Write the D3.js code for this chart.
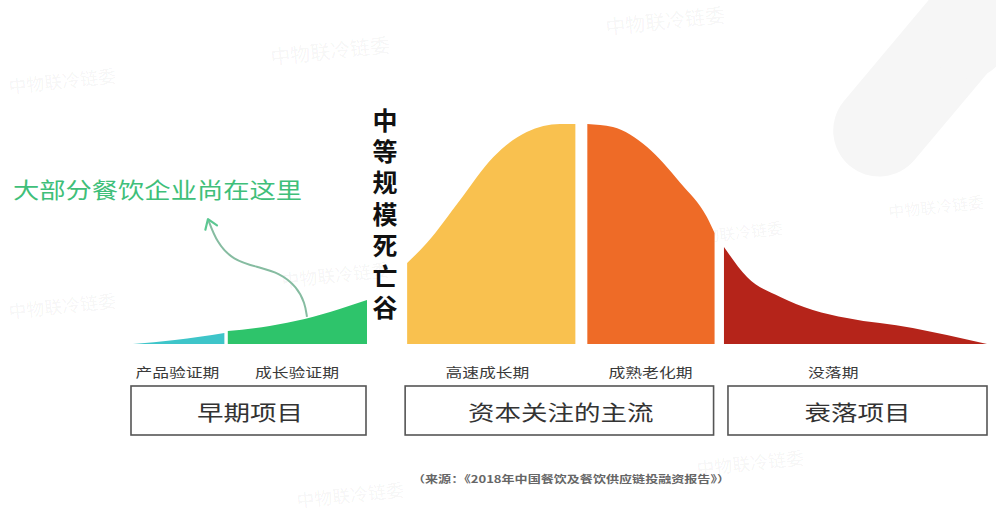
<!DOCTYPE html>
<html>
<head>
<meta charset="utf-8">
<script src="https://cdn.jsdelivr.net/npm/d3@7"></script>
<style>
  html, body { margin: 0; padding: 0; background: #fff; }
  svg { display: block; }
  text { font-family: "Noto Sans CJK SC", "Noto Sans", sans-serif; }
</style>
</head>
<body>
<svg id="chart" width="996" height="512"></svg>
<script>
// Life-cycle curve of a restaurant business, split into stages.
// x: position along the life cycle (0–100), value: relative scale (0–100).
const stageNames = ["产品验证期", "成长验证期", "高速成长期", "成熟老化期", "没落期"];
const curveProduct = [[0, 0], [4.9, 1.8], [10.7, 5]];
const curveGrowthCheck = [[11.1, 5.9], [16.0, 8.2], [20.1, 11.4], [24.2, 15.9], [27.4, 20]];
const curveFastGrowth = [[32.1, 36.8], [34.4, 45.9], [38.3, 65.5], [42.2, 85], [46.1, 96.4], [50.0, 100], [51.8, 100]];
const curveMature = [[53.2, 100], [56.2, 98.6], [60.2, 89.5], [64.1, 73.2], [67.2, 57.7], [68.1, 50.5]];
const curveDecline = [[69.2, 44.1], [71.9, 30.5], [75.8, 21.4], [79.6, 15.5], [83.6, 11.8], [91.3, 7.3], [95.3, 4.1], [100, 0]];
const stageCurves = [curveProduct, curveGrowthCheck, curveFastGrowth, curveMature, curveDecline];
// where each stage name sits along the x axis
const stageLabelAt = [5.2, 19.2, 41.5, 60.6, 82];

const groupNames = ["早期项目", "资本关注的主流", "衰落项目"];
const groupStages = [[0, 1], [2, 3], [4, 4]];

const valleyLabel = "中等规模死亡谷";
const noteLabel = "大部分餐饮企业尚在这里";
// arrow from the note down to the curve, in chart units
const notePath = [[8.78, 56.8], [9.84, 45.9], [11.71, 38.2], [14.52, 35.0], [17.21, 32.3], [19.2, 25.9], [20.14, 18.6], [20.37, 12.3]];
const sourceLabel = "（来源：《2018年中国餐饮及餐饮供应链投融资报告》）";
const watermark = "中物联冷链委";

const stageColors = ["#3ec5c9", "#2ec46b", "#f9c14f", "#ee6b27", "#b5241a"];

const svg = d3.select("#chart");
const W = 996, H = 512;

const x = d3.scaleLinear().domain([0, 100]).range([133, 987]);
const y = d3.scaleLinear().domain([0, 100]).range([344, 124]);

// faint background decoration
const bg = svg.append("g");
bg.append("rect").attr("width", W).attr("height", H).attr("fill", "#fff");
const pill = (cx, cy, len, wid, ang) => bg.append("rect")
  .attr("x", -wid / 2).attr("y", -len / 2).attr("width", wid).attr("height", len)
  .attr("rx", wid / 2).attr("fill", "#f6f6f6")
  .attr("transform", `translate(${cx},${cy}) rotate(${ang})`);
pill(930, 70, 250, 92, 40);
pill(1000, 0, 180, 80, 40);

const marks = [
  [330, 50, 20], [665, 20, 20], [62, 80, 18], [335, 274, 18], [62, 305, 18],
  [735, 232, 16], [936, 206, 16], [750, 462, 18], [350, 494, 18]
];
bg.selectAll("text.wm").data(marks).join("text")
  .attr("class", "wm")
  .attr("transform", d => `translate(${d[0]},${d[1]}) rotate(-6)`)
  .attr("text-anchor", "middle").attr("dominant-baseline", "central")
  .attr("font-size", d => d[2]).attr("fill", "#000").attr("fill-opacity", 0.05)
  .text(watermark);

// stage areas
const area = d3.area()
  .x(d => x(d[0])).y0(y(0)).y1(d => y(d[1]))
  .curve(d3.curveMonotoneX);
svg.append("g").selectAll("path").data(stageCurves).join("path")
  .attr("d", area)
  .attr("fill", (d, i) => stageColors[i]);

// stage names
svg.append("g").selectAll("text").data(stageNames).join("text")
  .attr("x", (d, i) => x(stageLabelAt[i]))
  .attr("y", 371)
  .attr("text-anchor", "middle").attr("dominant-baseline", "central")
  .attr("font-size", 13).attr("fill", "#3a3a3a")
  .attr("textLength", d => d.length * 16.8).attr("lengthAdjust", "spacingAndGlyphs")
  .text(d => d);

// group boxes
const groups = groupNames.map((name, i) => {
  const s = groupStages[i];
  return {
    name,
    x0: d3.min(stageCurves[s[0]], d => d[0]),
    x1: d3.max(stageCurves[s[1]], d => d[0])
  };
});
const gb = svg.append("g").selectAll("g").data(groups).join("g");
gb.append("rect")
  .attr("x", (d, i) => x(d.x0) + (i === 2 ? 4 : -2)).attr("y", 386)
  .attr("width", (d, i) => x(d.x1) - x(d.x0) + (i === 2 ? -4 : 1)).attr("height", 49)
  .attr("fill", "none").attr("stroke", "#555").attr("stroke-width", 1.6);
gb.append("text")
  .attr("x", (d, i) => (x(d.x0) + x(d.x1)) / 2 + (i === 2 ? 2 : 0)).attr("y", 411)
  .attr("text-anchor", "middle").attr("dominant-baseline", "central")
  .attr("font-size", 21).attr("fill", "#333")
  .attr("textLength", d => d.name.length * 26.5).attr("lengthAdjust", "spacingAndGlyphs")
  .text(d => d.name);

// vertical "valley" label in the gap
svg.append("text")
  .attr("x", 385).attr("y", 108)
  .style("writing-mode", "vertical-rl")
  .style("text-orientation", "upright")
  .attr("letter-spacing", 6.2)
  .attr("font-size", 25).attr("font-weight", "bold").attr("fill", "#111")
  .text(valleyLabel);

// note + arrow
svg.append("text")
  .attr("x", 13).attr("y", 188)
  .attr("dominant-baseline", "central")
  .attr("font-size", 22).attr("fill", "#3fbf7a")
  .attr("textLength", 289).attr("lengthAdjust", "spacingAndGlyphs")
  .text(noteLabel);

const line = d3.line().x(d => x(d[0])).y(d => y(d[1])).curve(d3.curveBasis);
svg.append("path")
  .attr("d", line(notePath))
  .attr("fill", "none").attr("stroke", "#86bca1").attr("stroke-width", 2);
// arrow head at the top end
const tip = notePath[0], nxt = notePath[1];
const ang = Math.atan2(y(tip[1]) - y(nxt[1]), x(tip[0]) - x(nxt[0]));
const hl = 11, spread = 0.6;
const tx = x(tip[0]), ty = y(tip[1]);
svg.append("path")
  .attr("d", `M${tx - hl * Math.cos(ang - spread)},${ty - hl * Math.sin(ang - spread)} L${tx},${ty} L${tx - hl * Math.cos(ang + spread)},${ty - hl * Math.sin(ang + spread)}`)
  .attr("fill", "none").attr("stroke", "#5cc892").attr("stroke-width", 2.2)
  .attr("stroke-linejoin", "round").attr("stroke-linecap", "round");

// source line
svg.append("text")
  .attr("x", 571).attr("y", 478)
  .attr("text-anchor", "middle").attr("dominant-baseline", "central")
  .attr("font-size", 10).attr("font-weight", "bold").attr("fill", "#666")
  .attr("textLength", 318).attr("lengthAdjust", "spacingAndGlyphs")
  .text(sourceLabel);
</script>
</body>
</html>
